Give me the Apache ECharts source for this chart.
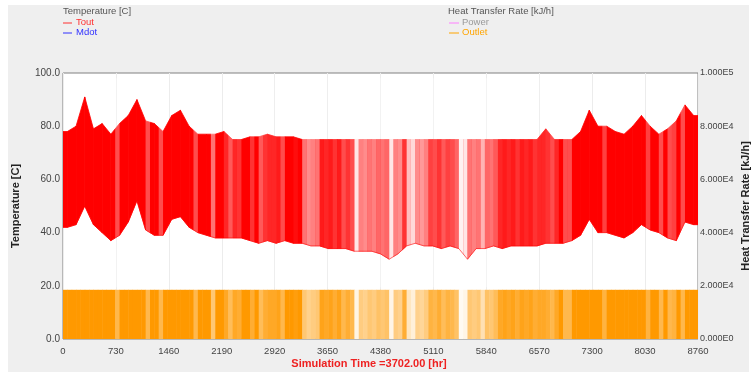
<!DOCTYPE html>
<html><head><meta charset="utf-8">
<script src="https://cdn.jsdelivr.net/npm/echarts@6/dist/echarts.min.js"></script>
<style>
html,body{margin:0;padding:0;background:#fff;}
#panel{position:absolute;left:8px;top:5px;width:741px;height:367px;background:#efefef;}
#c{position:absolute;left:0;top:0;width:753px;height:376px;}
</style>
</head><body><div id="panel"></div><div id="c"></div>
<script>
// ---- data ----
const xTicks = [0, 730, 1460, 2190, 2920, 3650, 4380, 5110, 5840, 6570, 7300, 8030, 8760];
const toutBinHours = 120; // Tout envelope per 120-hour bin
const toutHigh = [
  78,80,91,79,81,77,81,84,90,82,
  81,78,84,86,80,77,77,77,78,75,
  75,76,76,77,76,76,76,75,75,75,
  75,75,75,75,75,75,75,75,75,75,
  75,75,75,75,75,75,75,75,75,75,
  75,75,75,75,75,79,75,75,75,78,
  86,80,80,78,77,80,84,80,77,79,
  82,88,84];
const toutLow = [
  42,43,50,43,40,37,39,44,52,41,
  39,39,45,46,42,40,39,38,38,38,
  38,37,36,37,36,37,36,36,35,35,
  34,34,34,33,33,33,32,30,32,35,
  36,35,35,34,35,34,30,34,34,35,
  34,35,35,35,35,36,36,36,37,39,
  45,40,40,39,38,40,43,41,40,38,
  37,44,43];
const outletBinHours = 60;  // share of each 60-hour bin with the outlet at full rate
const outletDuty = [
  1,1,1,1,1,1,1,1,1,1,
  1,1,0.7,1,1,1,1,1,1,0.7,
  1,1,0.7,1,1,1,1,1,1,1,
  0.7,1,1,1,0.55,1,1,0.85,0.65,0.85,
  0.8,1,1,0.8,1,0.65,0.8,0.85,0.85,0.9,
  0.7,1,1,0.95,1,0.55,0.45,0.5,0.55,0.9,
  0.85,0.9,0.8,0.9,0.7,0.8,0.7,0.1,0.5,0.45,
  0.55,0.5,0.6,0.55,0.6,0.1,0.5,0.45,0.8,0.25,
  0.15,0.45,0.4,0.5,0.75,0.7,0.8,0.65,0.75,0.7,
  0.6,0.05,0.1,0.55,0.5,0.55,0.3,0.6,0.55,0.65,
  0.85,0.9,0.85,0.9,0.8,0.9,0.85,0.9,0.8,0.85,
  0.85,0.8,0.7,0.85,1,0.7,0.7,1,1,1,
  1,1,1,1,0.75,1,1,1,1,1,
  1,1,1,1,0.75,1,1,0.7,1,0.7,
  0.75,1,0.7,1,1,1];
const outletPeak = 18500; // kJ/h
const simTime = '3702.00';

// ---- build series data ----
const hoursMax = xTicks[xTicks.length - 1];
const toutPts = [[0, toutHigh[0], toutLow[0]]];
toutHigh.forEach((h, i) => toutPts.push([i * toutBinHours + toutBinHours / 2, h, toutLow[i]]));
toutPts.push([hoursMax, toutHigh[toutHigh.length - 1], toutLow[toutLow.length - 1]]);
const bandSegs = [];
for (let i = 0; i < toutPts.length - 1; i++) {
  const a = toutPts[i], b = toutPts[i + 1];
  bandSegs.push([a[0], b[0], a[1], b[1], a[2], b[2]]);
}
const outletSegs = outletDuty.map((d, i) => [i * outletBinHours, (i + 1) * outletBinHours, d]);
const stripeSegs = outletSegs.filter(s => s[2] < 1);

function blendOrange(d) {
  const g = Math.round(153 * d + 255 * (1 - d));
  const b = Math.round(255 * (1 - d));
  return 'rgb(255,' + g + ',' + b + ')';
}
function expFmt(v) {
  if (v === 0) return '0.000E0';
  const e = Math.floor(Math.log10(v) + 1e-9);
  return (v / Math.pow(10, e)).toFixed(3) + 'E' + e;
}

const FF = '"Liberation Sans", Arial, sans-serif';
const chart = echarts.init(document.getElementById('c'));
chart.setOption({
  animation: false,
  backgroundColor: 'transparent',
  textStyle: { fontFamily: FF },
  grid: { left: 63, right: 55, top: 73, bottom: 37, show: true, backgroundColor: '#ffffff', borderColor: '#808080', borderWidth: 1,
          containLabel: false, outerBoundsMode: 'none' },
  xAxis: {
    type: 'value', min: 0, max: hoursMax, interval: 730,
    axisLine: { show: false }, axisTick: { show: false },
    axisLabel: { fontSize: 9.5, color: '#444', margin: 7, fontFamily: FF, formatter: v => String(v) },
    splitLine: { show: true, lineStyle: { color: '#ececec', width: 1 } }
  },
  yAxis: [
    { type: 'value', min: 0, max: 100, interval: 20, position: 'left',
      axisLine: { show: false }, axisTick: { show: false }, splitLine: { show: false },
      axisLabel: { fontSize: 10, color: '#444', margin: 3, formatter: v => v.toFixed(1), fontFamily: FF },
      name: 'Temperature [C]', nameLocation: 'middle', nameRotate: 90, nameGap: 42, nameMoveOverlap: false,
      nameTextStyle: { fontWeight: 'bold', fontSize: 11, color: '#222', fontFamily: FF } },
    { type: 'value', min: 0, max: 100000, interval: 20000, position: 'right',
      axisLine: { show: false }, axisTick: { show: false }, splitLine: { show: false },
      axisLabel: { fontSize: 9, color: '#444', margin: 2, formatter: expFmt, fontFamily: FF },
      name: 'Heat Transfer Rate [kJ/h]', nameLocation: 'middle', nameRotate: 90, nameGap: 42, nameMoveOverlap: false,
      nameTextStyle: { fontWeight: 'bold', fontSize: 11, color: '#222', fontFamily: FF } }
  ],
  graphic: [
    { type: 'text', left: 63, top: 6, style: { text: 'Temperature [C]', fill: '#555', font: '9.5px ' + FF } },
    { type: 'line', shape: { x1: 63, y1: 23, x2: 72, y2: 23 }, style: { stroke: '#ff3030', lineWidth: 1 } },
    { type: 'text', left: 76, top: 17, style: { text: 'Tout', fill: '#ff3030', font: '9.5px ' + FF } },
    { type: 'line', shape: { x1: 63, y1: 33, x2: 72, y2: 33 }, style: { stroke: '#3030ff', lineWidth: 1 } },
    { type: 'text', left: 76, top: 27, style: { text: 'Mdot', fill: '#3030ff', font: '9.5px ' + FF } },
    { type: 'text', left: 448, top: 6, style: { text: 'Heat Transfer Rate [kJ/h]', fill: '#555', font: '9.5px ' + FF } },
    { type: 'line', shape: { x1: 449, y1: 23, x2: 459, y2: 23 }, style: { stroke: '#ff80ff', lineWidth: 1 } },
    { type: 'text', left: 462, top: 17, style: { text: 'Power', fill: '#999', font: '9.5px ' + FF } },
    { type: 'line', shape: { x1: 449, y1: 33, x2: 459, y2: 33 }, style: { stroke: '#ffa500', lineWidth: 1 } },
    { type: 'text', left: 462, top: 27, style: { text: 'Outlet', fill: '#ffa500', font: '9.5px ' + FF } },
    { type: 'text', x: 369, y: 364, style: { text: 'Simulation Time =' + simTime + ' [hr]', fill: '#ee2222', font: 'bold 11px ' + FF, textAlign: 'center', textVerticalAlign: 'middle' } }
  ],
  series: [
    { type: 'custom', name: 'Tout', xAxisIndex: 0, yAxisIndex: 0, data: bandSegs, clip: true,
      encode: { x: [0, 1], y: [2, 3, 4, 5] },
      renderItem: (p, api) => {
        const x0 = api.value(0), x1 = api.value(1);
        const pts = [api.coord([x0, api.value(2)]), api.coord([x1, api.value(3)]),
                     api.coord([x1, api.value(5)]), api.coord([x0, api.value(4)])];
        return { type: 'polygon', shape: { points: pts }, style: { fill: '#ff0000', stroke: '#ff0000', lineWidth: 0.8 } };
      } },
    { type: 'custom', name: 'off', xAxisIndex: 0, yAxisIndex: 0, data: stripeSegs, clip: true,
      encode: { x: [0, 1] },
      renderItem: (p, api) => {
        const a = api.coord([api.value(0), 98]);
        const b = api.coord([api.value(1), 19.5]);
        return { type: 'rect', shape: { x: a[0], y: a[1], width: b[0] - a[0], height: b[1] - a[1] },
                 style: { fill: '#ffffff', opacity: 1 - api.value(2) } };
      } },
    { type: 'line', name: 'ToutLow', xAxisIndex: 0, yAxisIndex: 0, data: toutPts.map(q => [q[0], q[2]]),
      showSymbol: false, silent: true, lineStyle: { color: '#ff0000', width: 1, opacity: 0.55 } },
    { type: 'custom', name: 'Outlet', xAxisIndex: 0, yAxisIndex: 1, data: outletSegs, clip: true,
      encode: { x: [0, 1], y: 2 },
      renderItem: (p, api) => {
        const a = api.coord([api.value(0), outletPeak]);
        const b = api.coord([api.value(1), 0]);
        return { type: 'rect', shape: { x: a[0], y: a[1], width: b[0] - a[0] + 0.5, height: b[1] - a[1] },
                 style: { fill: blendOrange(api.value(2)) } };
      } }
  ]
});
</script>
</body></html>
